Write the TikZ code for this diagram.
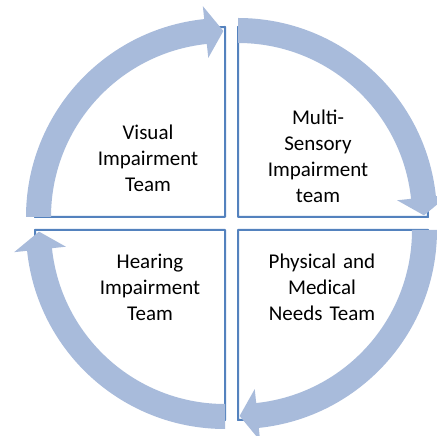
\documentclass[tikz,border=0pt]{standalone}
\usepackage{fontspec}
\setmainfont{Carlito}
\usepackage{tikz}
\usetikzlibrary{calc,positioning}
\definecolor{ringblue}{RGB}{168,187,219}
\definecolor{edgeblue}{RGB}{84,130,190}
\tikzstyle{quadrant} = [draw=edgeblue, line width=2pt, fill=white, line join=round]
\tikzstyle{ring} = [fill=ringblue, draw=none]
\tikzstyle{teamtext} = [text width=150pt, align=center, font=\fontsize{21}{26}\selectfont, text=black]
% one quarter of the ring, #1 = angle of the tail, runs clockwise
\newcommand{\ringarrow}[1]{%
  \fill[ring] (#1:199) arc[start angle=#1, end angle=#1-84, radius=199]
    -- (#1-84:212) -- (#1-89.5:186) -- (#1-84:160) -- (#1-84:174)
    arc[start angle=#1-84, end angle=#1, radius=174] -- cycle;
}

\begin{document}
\begin{tikzpicture}[x=1pt, y=1pt]
  \useasboundingbox (0,0) rectangle (437,436);
  %quadrants
  \begin{scope}[shift={(225,219)}]
    \draw[quadrant] (0,0) -- (180:190) arc[start angle=180, end angle=90, radius=190] -- cycle;
    \ringarrow{180}
  \end{scope}
  \begin{scope}[shift={(238,219)}]
    \draw[quadrant] (0,0) -- (90:190) arc[start angle=90, end angle=0, radius=190] -- cycle;
    \ringarrow{90}
  \end{scope}
  \begin{scope}[shift={(238,206)}]
    \draw[quadrant] (0,0) -- (0:190) arc[start angle=0, end angle=-90, radius=190] -- cycle;
    \ringarrow{0}
  \end{scope}
  \begin{scope}[shift={(225,206)}]
    \draw[quadrant] (0,0) -- (-90:190) arc[start angle=-90, end angle=-180, radius=190] -- cycle;
    \ringarrow{-90}
  \end{scope}
  %team names
  \node[teamtext](visual) at (148,278) {Visual\\Impairment\\Team};
  \node[teamtext](multi) at (318,280) {Multi-\\Sensory\\Impairment\\team};
  \node[teamtext](hearing) at (150,149) {Hearing\\Impairment\\Team};
  \node[teamtext](physical) at (322,149) {Physical and\\Medical\\Needs Team};
\end{tikzpicture}
\end{document}
